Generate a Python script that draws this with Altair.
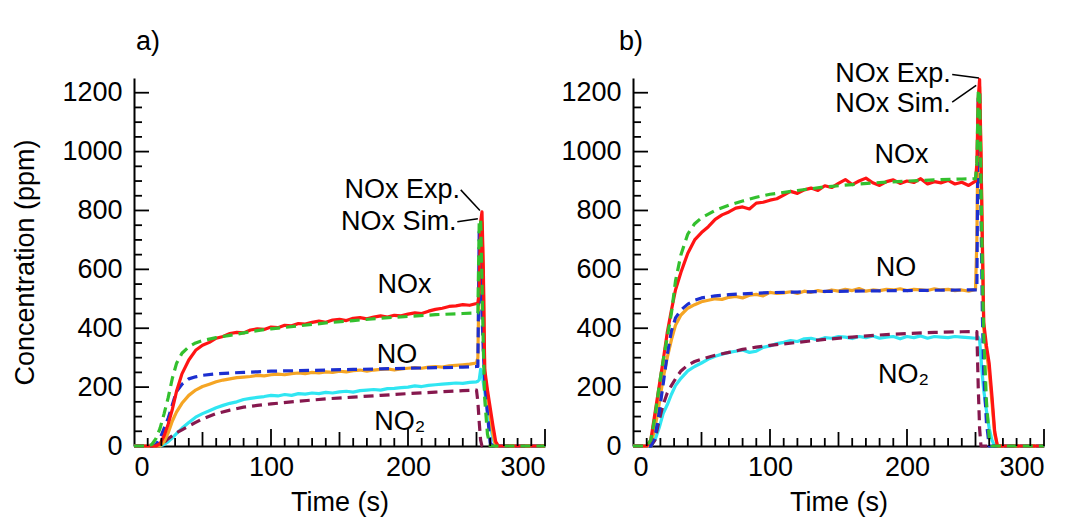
import altair as alt
import pandas as pd

# ---------------- data ----------------
T_EXP = [0, 5, 10, 13, 16, 19, 22, 25, 28, 31,
         35, 40, 45, 50, 55, 60, 65, 70, 75, 80,
         85, 90, 95, 100, 105, 110, 115, 120, 125, 130,
         135, 140, 145, 150, 155, 160, 165, 170, 175, 180,
         185, 190, 195, 200, 205, 210, 215, 220, 225, 230,
         235, 240, 245, 250, 251, 252, 253, 254, 255, 256,
         258, 260, 262, 264, 266, 270, 280, 290, 300]

T_SIM = [0, 5, 10, 13, 16, 19, 22, 25, 28, 31,
         35, 40, 45, 50, 60, 70, 80, 90, 100, 120,
         140, 160, 180, 200, 220, 240, 250, 251, 252, 253,
         254, 255, 256, 258, 260, 262, 264, 270, 280, 290,
         300]

# panel a
A_NOX_EXP = [0, 0, 0, 0, 0, 8, 35, 75, 125, 185,
             245, 292, 325, 342, 352, 366, 372, 382, 386, 384,
             394, 398, 396, 404, 402, 410, 408, 416, 414, 420,
             424, 420, 428, 430, 426, 434, 436, 432, 438, 442,
             438, 444, 442, 448, 452, 450, 458, 464, 468, 474,
             476, 480, 478, 484, 486, 520, 760, 795, 600, 260,
             190, 130, 70, 15, 0, 0, 0, 0, 0]
A_NO_EXP = [0, 0, 0, 0, 0, 0, 15, 45, 85, 115,
            145, 172, 190, 202, 210, 218, 224, 228, 232, 234,
            236, 240, 238, 242, 244, 242, 246, 248, 246, 250,
            248, 252, 250, 254, 252, 256, 258, 254, 258, 260,
            262, 258, 262, 264, 266, 264, 268, 270, 268, 272,
            274, 276, 278, 282, 300, 600, 740, 760, 560, 250,
            170, 100, 40, 0, 0, 0, 0, 0, 0]
A_NO2_EXP = [0, 0, 0, 0, 0, 0, 5, 15, 28, 42,
             60, 80, 98, 110, 120, 130, 138, 145, 150, 158,
             162, 165, 168, 172, 170, 175, 172, 178, 176, 180,
             178, 182, 180, 184, 186, 183, 188, 190, 192, 190,
             195, 196, 198, 200, 204, 202, 206, 208, 210, 212,
             214, 213, 216, 218, 220, 225, 260, 250, 215, 185,
             120, 70, 25, 0, 0, 0, 0, 0, 0]
A_NOX_SIM = [0, 0, 0, 5, 25, 60, 110, 165, 230, 280,
             315, 337, 350, 358, 368, 376, 384, 392, 398, 408,
             418, 426, 434, 440, 446, 450, 452, 452, 765, 770,
             560, 330, 160, 40, 0, 0, 0, 0, 0, 0,
             0]
A_NO_SIM = [0, 0, 0, 0, 5, 25, 60, 95, 140, 185,
            210, 228, 235, 240, 245, 248, 250, 252, 254, 256,
            258, 260, 262, 264, 266, 268, 270, 270, 740, 740,
            450, 320, 220, 110, 10, 0, 0, 0, 0, 0,
            0]
A_NO2_SIM = [0, 0, 0, 0, 0, 0, 12, 25, 35, 45,
             55, 68, 80, 92, 110, 122, 132, 138, 143, 152,
             160, 166, 172, 178, 183, 188, 190, 150, 80, 20,
             0, 0, 0, 0, 0, 0, 0, 0, 0, 0,
             0]

# panel b
B_NOX_EXP = [0, 0, 0, 20, 110, 200, 290, 385, 460, 530,
             590, 655, 700, 725, 745, 770, 785, 795, 808, 812,
             805, 825, 828, 835, 840, 852, 865, 858, 870, 876,
             868, 884, 878, 892, 905, 888, 900, 910, 894, 885,
             898, 904, 892, 900, 895, 908, 890, 898, 894, 902,
             890, 896, 885, 900, 960, 1180, 1245, 1000, 700, 420,
             340, 280, 170, 50, 0, 0, 0, 0, 0]
B_NO_EXP = [0, 0, 0, 5, 60, 140, 230, 300, 360, 410,
            445, 468, 480, 490, 495, 500, 498, 505, 508, 503,
            512, 515, 510, 522, 518, 520, 524, 518, 526, 522,
            528, 524, 530, 526, 532, 528, 535, 526, 530, 528,
            532, 530, 534, 528, 532, 530, 528, 534, 530, 532,
            528, 530, 526, 532, 700, 1150, 1220, 980, 680, 400,
            320, 250, 150, 40, 0, 0, 0, 0, 0]
B_NO2_EXP = [0, 0, 0, 0, 20, 60, 110, 140, 175, 205,
             230, 255, 270, 282, 295, 305, 312, 318, 322, 326,
             318, 322, 335, 340, 348, 352, 358, 355, 364, 366,
             360, 368, 366, 372, 370, 365, 372, 368, 374, 366,
             370, 372, 364, 372, 368, 374, 366, 372, 370, 368,
             372, 370, 368, 366, 368, 370, 360, 300, 240, 190,
             120, 60, 20, 0, 0, 0, 0, 0, 0]
B_NOX_SIM = [0, 0, 0, 20, 100, 200, 290, 370, 450, 560,
             650, 720, 755, 775, 800, 818, 832, 845, 855, 868,
             880, 888, 895, 900, 904, 907, 908, 960, 1200, 1210,
             900, 600, 380, 150, 30, 0, 0, 0, 0, 0,
             0]
B_NO_SIM = [0, 0, 0, 0, 30, 110, 210, 310, 390, 435,
            462, 482, 495, 503, 510, 514, 517, 519, 521, 523,
            525, 526, 527, 528, 529, 530, 530, 530, 1180, 1200,
            800, 450, 250, 80, 0, 0, 0, 0, 0, 0,
            0]
B_NO2_SIM = [0, 0, 0, 0, 20, 85, 140, 180, 205, 228,
             255, 275, 287, 295, 308, 318, 328, 336, 342, 352,
             362, 370, 377, 382, 386, 388, 389, 389, 200, 60,
             0, 0, 0, 0, 0, 0, 0, 0, 0, 0,
             0]

# annotations: (time, ppm, text)
A_LABELS_T = [197.5, 192, 194]
A_LABELS_V = [548, 310, 82]
B_LABELS_T = [196, 192, 197.5]
B_LABELS_V = [990, 605, 241]
SPECIES = ["NOx", "NO", "NO\u2082"]

A_NOTE_T = [238, 235.5]
A_NOTE_V = [870, 762]
B_NOTE_T = [232, 232]
B_NOTE_V = [1262, 1160]
NOTES = ["NOx Exp.", "NOx Sim."]
A_LEAD = [(238.5, 870, 252.5, 800), (236, 762, 251, 772)]
B_LEAD = [(233, 1262, 252.5, 1250), (233, 1168, 250.5, 1225)]

X_TICKS = list(range(10, 301, 10))
Y_TICKS = list(range(50, 1201, 50))

# ---------------- styling ----------------
W, H = 411, 368
FONT = "Liberation Sans"
FS = 27
RED, GREEN, ORANGE, BLUE, CYAN, MAROON = "#ff1414", "#33c02e", "#f5a524", "#1c2fd0", "#30e6f2", "#86184e"
DASH = [10, 6]
LW = 3.2

xs = alt.Scale(domain=[0, 300], nice=False, zero=False)
ys = alt.Scale(domain=[0, 1250], nice=False, zero=False)


def make_panel(label, exp_series, sim_series, lab_t, lab_v, note_t, note_v, leads, ytitle):
    X = alt.X("t:Q", scale=xs, axis=alt.Axis(values=[0, 100, 200, 300], title="Time (s)",
                                              titlePadding=9, labelPadding=8, format="d"))
    if ytitle:
        yaxis = alt.Axis(values=list(range(0, 1201, 200)), title=ytitle, titlePadding=22,
                         labelPadding=12, format="d")
    else:
        yaxis = alt.Axis(values=list(range(0, 1201, 200)), title=None, labelPadding=12, format="d")
    Y = alt.Y("v:Q", scale=ys, axis=yaxis)

    layers = []
    order = [exp_series[2], sim_series[2], exp_series[1], sim_series[1], exp_series[0], sim_series[0]]
    for (t, v, col, dashed) in order:
        kw = dict(color=col, strokeWidth=LW, strokeJoin="round")
        if dashed:
            kw["strokeDash"] = DASH
        layers.append(alt.Chart(pd.DataFrame({"t": t, "v": v})).mark_line(**kw).encode(x=X, y=Y))

    # inward ticks
    xt = pd.DataFrame({"t": X_TICKS})
    major = xt[xt.t % 100 == 0]
    mid = xt[(xt.t % 50 == 0) & (xt.t % 100 != 0)]
    minor = xt[xt.t % 50 != 0]
    for df, ln in [(major, 17), (mid, 14), (minor, 8)]:
        layers.append(alt.Chart(df).mark_rule(color="black", strokeWidth=1.8).encode(
            x=X, y=alt.value(H), y2=alt.value(H - ln)))
    yt = pd.DataFrame({"v": Y_TICKS})
    ymaj = yt[yt.v % 200 == 0]
    ymin = yt[yt.v % 200 != 0]
    for df, ln in [(ymaj, 15), (ymin, 8)]:
        layers.append(alt.Chart(df).mark_rule(color="black", strokeWidth=1.8).encode(
            y=Y, x=alt.value(0), x2=alt.value(ln)))

    # species labels
    layers.append(alt.Chart(pd.DataFrame({"t": lab_t, "v": lab_v, "s": SPECIES})).mark_text(
        font=FONT, fontSize=FS, color="black", align="center", baseline="middle").encode(
        x=X, y=Y, text="s:N"))
    # notes
    layers.append(alt.Chart(pd.DataFrame({"t": note_t, "v": note_v, "s": NOTES})).mark_text(
        font=FONT, fontSize=FS, color="black", align="right", baseline="middle").encode(
        x=X, y=Y, text="s:N"))
    ld = pd.DataFrame({"t": [a[0] for a in leads], "v": [a[1] for a in leads],
                       "t2": [a[2] for a in leads], "v2": [a[3] for a in leads]})
    layers.append(alt.Chart(ld).mark_rule(color="black", strokeWidth=1.5).encode(
        x=X, y=Y, x2="t2:Q", y2="v2:Q"))
    # panel letter
    layers.append(alt.Chart(pd.DataFrame({"t": [0]})).mark_text(
        text=label, font=FONT, fontSize=FS, color="black", align="left", baseline="middle").encode(
        x=alt.value(2 if label == "a)" else -14), y=alt.value(-36)))

    return alt.layer(*layers).properties(width=W, height=H)


exp_a = [(T_EXP, A_NOX_EXP, RED, False), (T_EXP, A_NO_EXP, ORANGE, False), (T_EXP, A_NO2_EXP, CYAN, False)]
sim_a = [(T_SIM, A_NOX_SIM, GREEN, True), (T_SIM, A_NO_SIM, BLUE, True), (T_SIM, A_NO2_SIM, MAROON, True)]
exp_b = [(T_EXP, B_NOX_EXP, RED, False), (T_EXP, B_NO_EXP, ORANGE, False), (T_EXP, B_NO2_EXP, CYAN, False)]
sim_b = [(T_SIM, B_NOX_SIM, GREEN, True), (T_SIM, B_NO_SIM, BLUE, True), (T_SIM, B_NO2_SIM, MAROON, True)]

pa = make_panel("a)", exp_a, sim_a, A_LABELS_T, A_LABELS_V, A_NOTE_T, A_NOTE_V, A_LEAD, "Concentration (ppm)")
pb = make_panel("b)", exp_b, sim_b, B_LABELS_T, B_LABELS_V, B_NOTE_T, B_NOTE_V, B_LEAD, None)

chart = alt.hconcat(pa, pb, spacing=88, bounds="flush").properties(
    padding={"left": 11, "top": 28, "right": 5, "bottom": 5}, background="white"
).configure_view(stroke=None).configure_axis(
    grid=False, ticks=False, domainColor="black", domainWidth=2,
    labelFont=FONT, labelFontSize=FS, labelColor="black",
    titleFont=FONT, titleFontSize=FS, titleFontWeight="normal", titleColor="black"
)

chart.save("out.html", embed_options={"renderer": "svg", "actions": False})
